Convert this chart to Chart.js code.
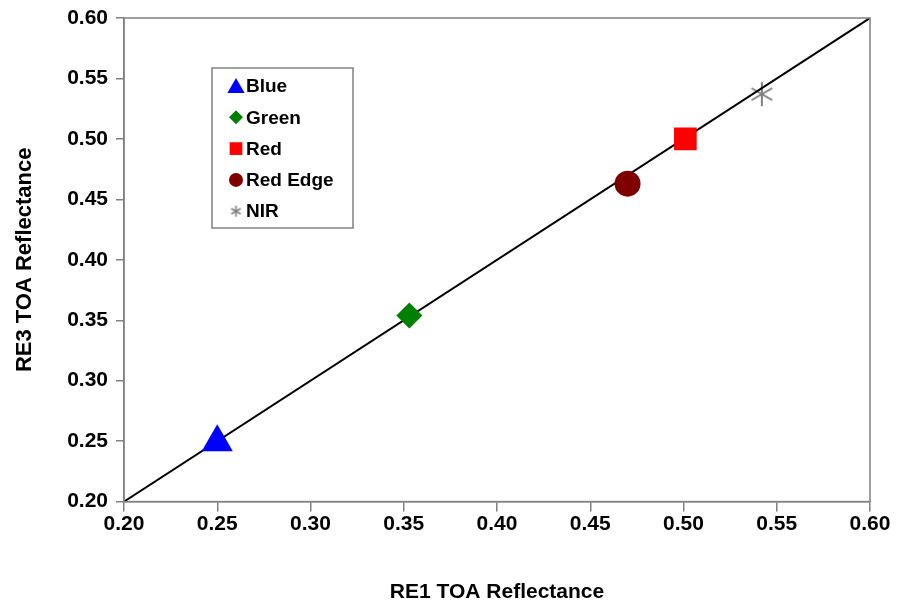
<!DOCTYPE html>
<html>
<head>
<meta charset="utf-8">
<script src="https://cdn.jsdelivr.net/npm/chart.js@4.4.1/dist/chart.umd.min.js"></script>
<style>
  html, body { margin: 0; padding: 0; background: #fff; }
  #wrap { width: 909px; height: 605px; position: relative; }
</style>
</head>
<body>
<div id="wrap"><canvas id="chart"></canvas></div>
<script>
    "use strict";

    // data
    var bands = ['Blue', 'Green', 'Red', 'Red Edge', 'NIR'];
    var re1 = [0.250, 0.353, 0.501, 0.470, 0.542];
    var re3 = [0.249, 0.354, 0.500, 0.463, 0.537];
    var oneToOneX = [0.20, 0.60];
    var oneToOneY = [0.20, 0.60];
    var tickValues = [0.20, 0.25, 0.30, 0.35, 0.40, 0.45, 0.50, 0.55, 0.60];

    var colors = ['#0000ff', '#008000', '#ff0000', '#800000', '#808080'];
    var styles = ['triangle', 'rectRot', 'rect', 'circle', null];
    var radii = [18, 13, 16, 13, 12];

    // asterisk marker for NIR
    function makeAsterisk(size, lw) {
        var c = document.createElement('canvas');
        c.width = size; c.height = size;
        var g = c.getContext('2d');
        var h = size / 2, r = h - 1;
        g.strokeStyle = '#808080';
        g.lineWidth = lw;
        g.beginPath();
        for (var i = 0; i < 3; i++) {
            var a = Math.PI / 2 + i * Math.PI / 3;
            g.moveTo(h + Math.cos(a) * r, h + Math.sin(a) * r);
            g.lineTo(h - Math.cos(a) * r, h - Math.sin(a) * r);
        }
        g.stroke();
        return c;
    }
    var nirBig = makeAsterisk(26, 2);
    var nirSmall = makeAsterisk(13, 1.6);
    styles[4] = nirBig;

    var datasets = [{
        label: '1:1',
        data: oneToOneX.map(function (x, i) { return {x: x, y: oneToOneY[i]}; }),
        showLine: true,
        borderColor: '#000',
        borderWidth: 2,
        pointRadius: 0,
        order: 10
    }];
    bands.forEach(function (b, i) {
        datasets.push({
            label: b,
            data: [{x: re1[i], y: re3[i]}],
            pointStyle: styles[i],
            pointRadius: radii[i],
            backgroundColor: colors[i],
            borderColor: colors[i],
            borderWidth: 0,
            order: i === 4 ? 20 : 1
        });
    });

    // frame round the plot area
    var frame = {
        id: 'frame',
        afterDraw: function (chart) {
            var a = chart.chartArea, ctx = chart.ctx;
            ctx.save();
            ctx.strokeStyle = '#808080';
            ctx.lineWidth = 1.5;
            ctx.strokeRect(a.left, a.top, a.right - a.left, a.bottom - a.top);
            ctx.restore();
        }
    };

    // legend box inside the plot
    var boxLegend = {
        id: 'boxLegend',
        afterDraw: function (chart) {
            var ctx = chart.ctx;
            var bx = 212, by = 68, bw = 141, bh = 160;
            ctx.save();
            ctx.fillStyle = '#fff';
            ctx.fillRect(bx, by, bw, bh);
            ctx.strokeStyle = '#808080';
            ctx.lineWidth = 1.5;
            ctx.strokeRect(bx, by, bw, bh);
            ctx.font = 'bold 19px "Liberation Sans", Arial, sans-serif';
            ctx.textBaseline = 'middle';
            var smallR = [10, 7, 9, 7, 0];
            bands.forEach(function (b, i) {
                var y = 86 + i * 31.3;
                ctx.fillStyle = colors[i];
                ctx.strokeStyle = colors[i];
                var st = i === 4 ? nirSmall : styles[i];
                var yy = i === 0 ? y + 2 : y;
                Chart.helpers.drawPoint(ctx, {pointStyle: st, radius: smallR[i], borderWidth: 0, rotation: 0}, 236, yy);
                ctx.fillStyle = '#000';
                ctx.fillText(b, 246, y + 1);
            });
            ctx.restore();
        }
    };

    var tickFont = {family: '"Liberation Sans", Arial, sans-serif', size: 21, weight: 'bold'};
    var yTickFont = {family: '"Liberation Sans", Arial, sans-serif', size: 21, weight: 'bold', lineHeight: 0.1};

    new Chart(document.getElementById('chart'), {
        type: 'scatter',
        data: {datasets: datasets},
        options: {
            responsive: true,
            maintainAspectRatio: false,
            animation: false,
            layout: {padding: {top: 14, right: 39, left: 0, bottom: 0}},
            plugins: {legend: {display: false}, tooltip: {enabled: false}},
            scales: {
                x: {
                    type: 'linear',
                    min: 0.20, max: 0.60,
                    afterBuildTicks: function (s) { s.ticks = tickValues.map(function (v) { return {value: v}; }); },
                    ticks: {color: '#000', font: tickFont, padding: 0, maxRotation: 0,
                        callback: function (v) { return v.toFixed(2); }},
                    grid: {drawOnChartArea: false, drawTicks: true, tickLength: 10, color: '#808080', lineWidth: 1.5},
                    border: {color: '#808080', width: 1.5},
                    title: {display: true, text: 'RE1 TOA Reflectance', color: '#000',
                        font: {family: '"Liberation Sans", Arial, sans-serif', size: 21, weight: 'bold'},
                        padding: {top: 43, bottom: 0}}
                },
                y: {
                    type: 'linear',
                    min: 0.20, max: 0.60,
                    afterBuildTicks: function (s) { s.ticks = tickValues.map(function (v) { return {value: v}; }); },
                    ticks: {color: '#000', font: yTickFont, padding: 8,
                        callback: function (v) { return v.toFixed(2); }},
                    grid: {drawOnChartArea: false, drawTicks: true, tickLength: 8, color: '#808080', lineWidth: 1.5},
                    border: {color: '#808080', width: 1.5},
                    title: {display: true, text: 'RE3 TOA Reflectance', color: '#000',
                        font: {family: '"Liberation Sans", Arial, sans-serif', size: 22, weight: 'bold'},
                        padding: {top: 12, bottom: 20}},
                    afterFit: function (s) { s.width = 124; }
                }
            }
        },
        plugins: [frame, boxLegend]
    });
</script>
</body>
</html>
